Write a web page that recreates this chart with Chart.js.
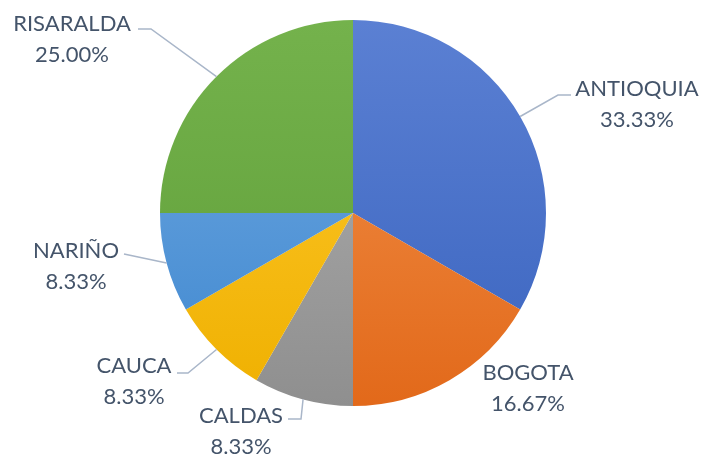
<!DOCTYPE html>
<html>
<head>
<meta charset="utf-8">
<script src="https://cdn.jsdelivr.net/npm/chart.js@4"></script>
<style>
  html, body { margin: 0; padding: 0; background: #fff; }
  #wrap { width: 706px; height: 458px; }
</style>
</head>
<body>
<div id="wrap"><canvas id="pieChart"></canvas></div>
<script>
// Data (counts, shown as percent of total)
const regions = ['ANTIOQUIA', 'BOGOTA', 'CALDAS', 'CAUCA', 'NARIÑO', 'RISARALDA'];
const counts = [4, 2, 1, 1, 1, 3];

// Light/dark ends of each slice's vertical gradient
const topColors = ['#5b80d3', '#f2924c', '#b0b0b0', '#ffca30', '#72aae2', '#74b24c'];
const bottomColors = ['#3a64bf', '#e2691a', '#8f8f8f', '#efb000', '#3e87cf', '#5f9e38'];

// Where each label sits (text centre x, first baseline) and the elbow of its leader line
const labelLayout = [
  { x: 637, y: 96, line: [[571, 95], [558, 95]] },
  { x: 528, y: 380, line: null },
  { x: 241, y: 423, line: [[288, 419], [301, 419]] },
  { x: 134, y: 373, line: [[177, 373], [188, 373]] },
  { x: 76, y: 258, line: [[124, 254]] },
  { x: 72, y: 31, line: [[138, 29], [151, 29]] }
];

const total = counts.reduce((a, b) => a + b, 0);

function sliceGradient(ctx, i) {
  const chart = ctx.chart;
  const area = chart.chartArea;
  if (!area) return topColors[i];
  const g = chart.ctx.createLinearGradient(0, area.top, 0, area.bottom);
  g.addColorStop(0, topColors[i]);
  g.addColorStop(1, bottomColors[i]);
  return g;
}

// Draws the outside labels with leader lines
const outsideLabels = {
  id: 'outsideLabels',
  afterDatasetsDraw(chart) {
    const ctx = chart.ctx;
    const meta = chart.getDatasetMeta(0);
    ctx.save();
    meta.data.forEach((arc, i) => {
      const lay = labelLayout[i];
      const mid = (arc.startAngle + arc.endAngle) / 2;
      const px = arc.x + Math.cos(mid) * arc.outerRadius;
      const py = arc.y + Math.sin(mid) * arc.outerRadius;
      if (lay.line) {
        ctx.strokeStyle = '#a9b6c9';
        ctx.lineWidth = 1.5;
        ctx.beginPath();
        ctx.moveTo(lay.line[0][0], lay.line[0][1]);
        for (let k = 1; k < lay.line.length; k++) ctx.lineTo(lay.line[k][0], lay.line[k][1]);
        ctx.lineTo(px, py);
        ctx.stroke();
      }
      ctx.fillStyle = '#44546a';
      ctx.font = '22px Lato, "Open Sans", sans-serif';
      ctx.textAlign = 'center';
      ctx.textBaseline = 'alphabetic';
      ctx.fillText(regions[i], lay.x, lay.y);
      ctx.fillText((counts[i] / total * 100).toFixed(2) + '%', lay.x, lay.y + 31);
    });
    ctx.restore();
  }
};

new Chart(document.getElementById('pieChart'), {
  type: 'pie',
  data: {
    labels: regions,
    datasets: [{
      data: counts,
      backgroundColor: (ctx) => sliceGradient(ctx, ctx.dataIndex),
      borderWidth: 0
    }]
  },
  options: {
    responsive: true,
    maintainAspectRatio: false,
    animation: false,
    layout: { padding: { top: 20, bottom: 52, left: 0, right: 0 } },
    plugins: {
      legend: { display: false },
      tooltip: { enabled: false }
    }
  },
  plugins: [outsideLabels]
});
</script>
</body>
</html>
